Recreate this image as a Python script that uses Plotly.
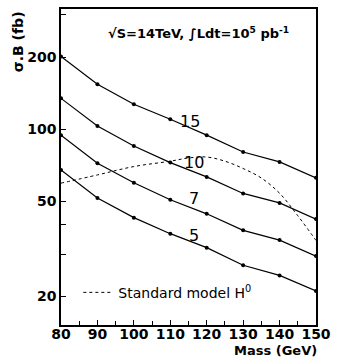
import math
import plotly.graph_objects as go

mass = [80, 90, 100, 110, 120, 130, 140, 150]
curve_15 = [201, 154, 127, 110, 94.4, 80.3, 73.0, 62.6]
curve_10 = [134.5, 103, 85, 72.5, 63.2, 53.9, 49.2, 42.1]
curve_7 = [94.4, 72.1, 59.7, 50.7, 44.3, 37.8, 34.4, 29.5]
curve_5 = [67.6, 51.6, 42.7, 36.6, 32.0, 27.0, 24.5, 21.1]
curve_names = ["15", "10", "7", "5"]
label_x = [115.5, 116.5, 116.5, 116.5]
label_y = [108, 72.5, 51.5, 36.0]

sm_mass = [80, 90, 100, 110, 115, 120, 125, 130, 135, 140, 145, 150]
sm_xsec = [59.5, 64.4, 69.8, 73.5, 75.8, 76.5, 73.5, 68.5, 62.5, 54.0, 43.5, 34.3]

y_tickvals = [20, 30, 40, 50, 100, 200, 300]
y_ticktext = ["20", "", "", "50", "100", "200", ""]
x_tickvals = [80, 90, 100, 110, 120, 130, 140, 150]

FONT = "DejaVu Sans"

fig = go.Figure()
fig.add_trace(go.Scatter(x=sm_mass, y=sm_xsec, mode="lines",
                         line=dict(color="black", width=1, dash="dot", shape="spline"),
                         name="Standard model H<sup>0</sup>", showlegend=True))
for ys in [curve_15, curve_10, curve_7, curve_5]:
    fig.add_trace(go.Scatter(x=mass, y=ys, mode="lines+markers",
                             line=dict(color="black", width=1.2),
                             marker=dict(color="black", size=4),
                             showlegend=False))
for name, lx, ly in zip(curve_names, label_x, label_y):
    fig.add_annotation(x=lx, y=math.log10(ly), text=name, showarrow=False,
                       font=dict(family=FONT, size=16, color="black"),
                       xanchor="center", yanchor="middle")

fig.add_annotation(xref="paper", yref="paper", x=0.54, y=0.925,
                   text="√S=14TeV, ∫Ldt=10<sup>5</sup> pb<sup>-1</sup>", showarrow=False,
                   font=dict(family=FONT, size=13, color="black", weight="bold"),
                   xanchor="center", yanchor="middle")
fig.add_annotation(xref="paper", yref="paper", x=-0.17, y=1.0,
                   text="σ.B (fb)", textangle=-90, showarrow=False,
                   font=dict(family=FONT, size=14, color="black", weight="bold"),
                   xanchor="center", yanchor="top")
fig.add_annotation(xref="paper", yref="paper", x=1.01, y=-0.082,
                   text="Mass (GeV)", showarrow=False,
                   font=dict(family=FONT, size=13, color="black", weight="bold"),
                   xanchor="right", yanchor="middle")

fig.update_layout(
    width=338, height=361,
    margin=dict(l=61, r=11, t=7, b=36),
    paper_bgcolor="white", plot_bgcolor="white",
    showlegend=True,
    legend=dict(x=0.068, y=0.102, xanchor="left", yanchor="middle",
                bgcolor="rgba(0,0,0,0)", font=dict(family=FONT, size=14, color="black"),
                itemwidth=30),
    xaxis=dict(range=[80, 150], tickvals=x_tickvals, ticks="inside", ticklen=5,
               minor=dict(dtick=5, ticks="inside", ticklen=4, tickcolor="black"),
               tickcolor="black", showgrid=False, zeroline=False,
               showline=True, linecolor="black", linewidth=1.5, mirror=True,
               ticklabeloverflow="allow", ticklabelstandoff=-5,
               tickfont=dict(family=FONT, size=14, color="black", weight="bold")),
    yaxis=dict(type="log", range=[1.182, 2.502], tickvals=y_tickvals, ticktext=y_ticktext,
               ticks="inside", ticklen=5, tickcolor="black", showgrid=False, zeroline=False,
               showline=True, linecolor="black", linewidth=1.5, mirror=True,
               tickfont=dict(family=FONT, size=14, color="black", weight="bold")),
)
fig.write_html("out.html")
